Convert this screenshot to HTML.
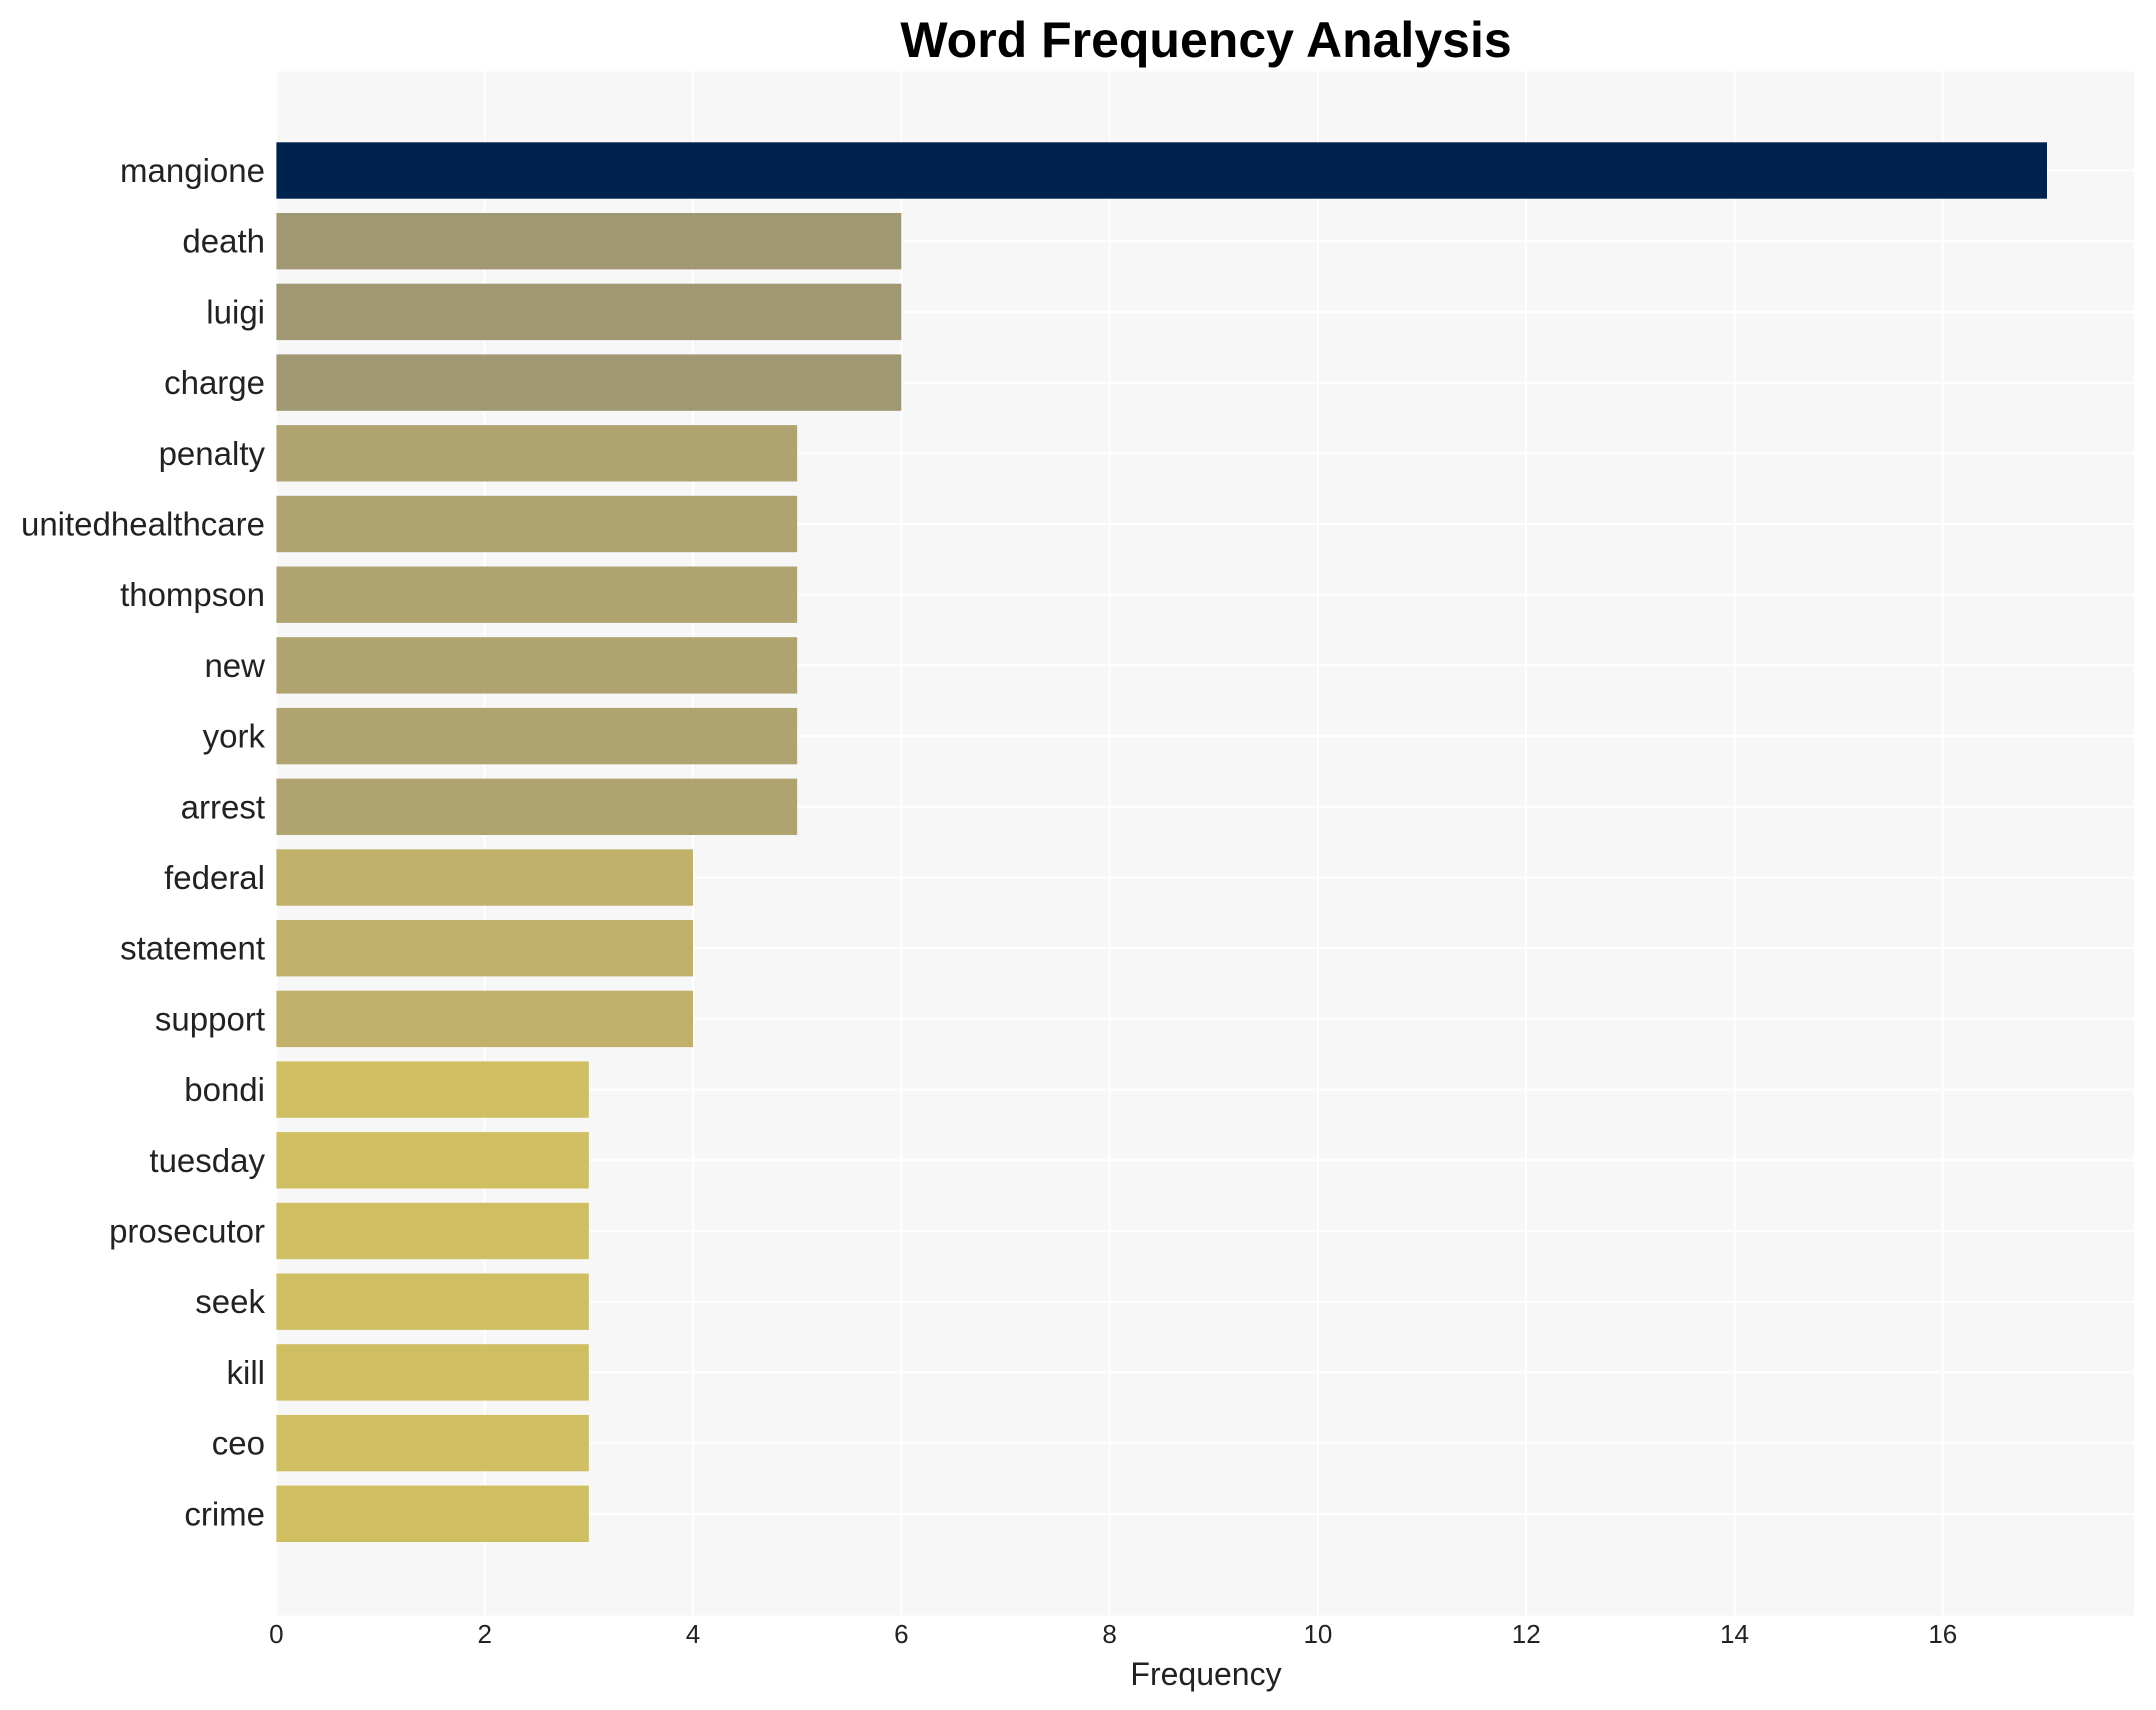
<!DOCTYPE html>
<html><head><meta charset="utf-8"><style>body{margin:0;background:#fff}svg{display:block}text{font-family:"Liberation Sans",Arial,sans-serif}</style></head><body>
<svg width="2156" height="1710" viewBox="0 0 2156 1710" xmlns="http://www.w3.org/2000/svg">
<rect x="276.4" y="71.5" width="1857.6" height="1544" fill="#f7f7f7"/>
<g stroke="#ffffff" stroke-width="2">
<line x1="276.4" y1="71.5" x2="276.4" y2="1615.5"/><line x1="484.7" y1="71.5" x2="484.7" y2="1615.5"/><line x1="693" y1="71.5" x2="693" y2="1615.5"/><line x1="901.3" y1="71.5" x2="901.3" y2="1615.5"/><line x1="1109.6" y1="71.5" x2="1109.6" y2="1615.5"/><line x1="1317.9" y1="71.5" x2="1317.9" y2="1615.5"/><line x1="1526.2" y1="71.5" x2="1526.2" y2="1615.5"/><line x1="1734.5" y1="71.5" x2="1734.5" y2="1615.5"/><line x1="1942.8" y1="71.5" x2="1942.8" y2="1615.5"/>
<line x1="276.4" x2="2134" y1="170.5" y2="170.5"/><line x1="276.4" x2="2134" y1="241.2" y2="241.2"/><line x1="276.4" x2="2134" y1="311.9" y2="311.9"/><line x1="276.4" x2="2134" y1="382.6" y2="382.6"/><line x1="276.4" x2="2134" y1="453.3" y2="453.3"/><line x1="276.4" x2="2134" y1="524" y2="524"/><line x1="276.4" x2="2134" y1="594.7" y2="594.7"/><line x1="276.4" x2="2134" y1="665.4" y2="665.4"/><line x1="276.4" x2="2134" y1="736.1" y2="736.1"/><line x1="276.4" x2="2134" y1="806.8" y2="806.8"/><line x1="276.4" x2="2134" y1="877.5" y2="877.5"/><line x1="276.4" x2="2134" y1="948.2" y2="948.2"/><line x1="276.4" x2="2134" y1="1018.9" y2="1018.9"/><line x1="276.4" x2="2134" y1="1089.6" y2="1089.6"/><line x1="276.4" x2="2134" y1="1160.3" y2="1160.3"/><line x1="276.4" x2="2134" y1="1231" y2="1231"/><line x1="276.4" x2="2134" y1="1301.7" y2="1301.7"/><line x1="276.4" x2="2134" y1="1372.4" y2="1372.4"/><line x1="276.4" x2="2134" y1="1443.1" y2="1443.1"/><line x1="276.4" x2="2134" y1="1513.8" y2="1513.8"/>
</g>
<g>
<rect x="276.4" y="142.3" width="1770.6" height="56.4" fill="#00224e"/>
<rect x="276.4" y="213" width="624.9" height="56.4" fill="#a09872"/>
<rect x="276.4" y="283.7" width="624.9" height="56.4" fill="#a09872"/>
<rect x="276.4" y="354.4" width="624.9" height="56.4" fill="#a09872"/>
<rect x="276.4" y="425.1" width="520.75" height="56.4" fill="#afa470"/>
<rect x="276.4" y="495.8" width="520.75" height="56.4" fill="#afa470"/>
<rect x="276.4" y="566.5" width="520.75" height="56.4" fill="#afa470"/>
<rect x="276.4" y="637.2" width="520.75" height="56.4" fill="#afa470"/>
<rect x="276.4" y="707.9" width="520.75" height="56.4" fill="#afa470"/>
<rect x="276.4" y="778.6" width="520.75" height="56.4" fill="#afa470"/>
<rect x="276.4" y="849.3" width="416.6" height="56.4" fill="#c0b06a"/>
<rect x="276.4" y="920" width="416.6" height="56.4" fill="#c0b06a"/>
<rect x="276.4" y="990.7" width="416.6" height="56.4" fill="#c0b06a"/>
<rect x="276.4" y="1061.4" width="312.45" height="56.4" fill="#cfbf62"/>
<rect x="276.4" y="1132.1" width="312.45" height="56.4" fill="#cfbf62"/>
<rect x="276.4" y="1202.8" width="312.45" height="56.4" fill="#cfbf62"/>
<rect x="276.4" y="1273.5" width="312.45" height="56.4" fill="#cfbf62"/>
<rect x="276.4" y="1344.2" width="312.45" height="56.4" fill="#cfbf62"/>
<rect x="276.4" y="1414.9" width="312.45" height="56.4" fill="#cfbf62"/>
<rect x="276.4" y="1485.6" width="312.45" height="56.4" fill="#cfbf62"/>
</g>
<g font-size="33" fill="#222" text-anchor="end">
<text x="265" y="182">mangione</text>
<text x="265" y="252.7">death</text>
<text x="265" y="323.4">luigi</text>
<text x="265" y="394.1">charge</text>
<text x="265" y="464.8">penalty</text>
<text x="265" y="535.5">unitedhealthcare</text>
<text x="265" y="606.2">thompson</text>
<text x="265" y="676.9">new</text>
<text x="265" y="747.6">york</text>
<text x="265" y="818.3">arrest</text>
<text x="265" y="889">federal</text>
<text x="265" y="959.7">statement</text>
<text x="265" y="1030.4">support</text>
<text x="265" y="1101.1">bondi</text>
<text x="265" y="1171.8">tuesday</text>
<text x="265" y="1242.5">prosecutor</text>
<text x="265" y="1313.2">seek</text>
<text x="265" y="1383.9">kill</text>
<text x="265" y="1454.6">ceo</text>
<text x="265" y="1525.3">crime</text>
</g>
<text x="1206" y="57" font-size="50" font-weight="bold" text-anchor="middle">Word Frequency Analysis</text>
<g font-size="26" fill="#222" text-anchor="middle">
<text x="276.4" y="1643">0</text><text x="484.7" y="1643">2</text><text x="693" y="1643">4</text><text x="901.3" y="1643">6</text><text x="1109.6" y="1643">8</text><text x="1317.9" y="1643">10</text><text x="1526.2" y="1643">12</text><text x="1734.5" y="1643">14</text><text x="1942.8" y="1643">16</text>
</g>
<text x="1206" y="1685" font-size="32" fill="#222" text-anchor="middle">Frequency</text>
</svg>
</body></html>
